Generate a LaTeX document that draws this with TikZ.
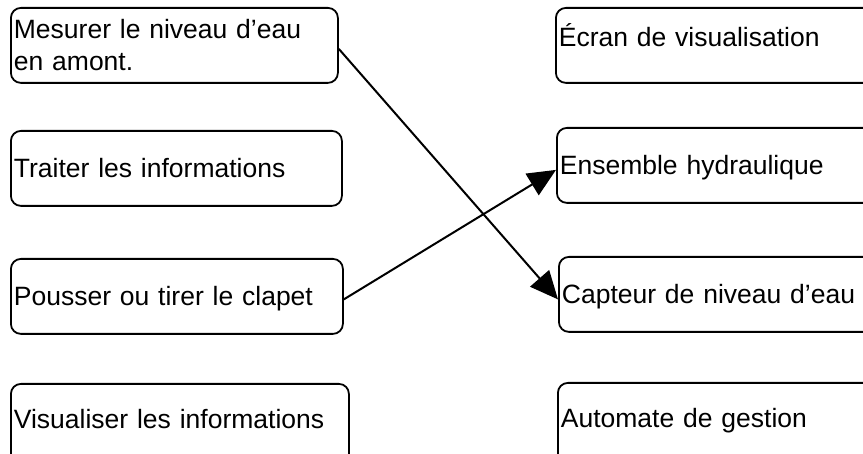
\documentclass[tikz,border=0pt]{standalone}
\usepackage{fontspec}
\setmainfont{Liberation Sans}
\usetikzlibrary{arrows.meta}
\begin{document}
\begin{tikzpicture}[x=1pt,y=-1pt,
    bloc/.style={draw, line width=1.8pt, rounded corners=10pt, anchor=north west,
        minimum height=75pt, inner xsep=3pt, inner ysep=0pt, align=left,
        font=\fontsize{26.5}{32}\selectfont},
    ligne/.style={bloc, text height=19pt, text depth=0pt},
    bas/.style={ligne, minimum height=82pt, text depth=12pt},
    fleche/.style={-{Triangle[length=28pt,width=25pt]}, line width=2pt}]
        \clip (0,0) rectangle (863,454);
        \node[bloc,text width=321pt] (mesurer) at (10,7) {Mesurer le niveau d’eau\\en amont.};
        \node[ligne,text width=325pt] (traiter) at (10,130) {Traiter les informations};
        \node[ligne,text width=326pt] (pousser) at (10,258) {Pousser ou tirer le clapet};
        \node[bas,text width=332pt] (visualiser) at (10,383) {Visualiser les informations};

        \node[bloc,text width=314pt,text height=25pt,text depth=22pt] (ecran) at (555,7) {Écran de visualisation};
        \node[ligne,text width=314pt] (ensemble) at (556,127) {Ensemble hydraulique};
        \node[ligne,text width=314pt] (capteur) at (558,256) {Capteur de niveau d’eau};
        \node[bas,text width=314pt] (automate) at (557,382) {Automate de gestion};

        \draw[fleche] ([yshift=-3.5pt]mesurer.east) -- ([yshift=-5pt]capteur.west);
        \draw[fleche] ([yshift=-3pt]pousser.east) -- ([yshift=-4.5pt]ensemble.west);
\end{tikzpicture}
\end{document}
